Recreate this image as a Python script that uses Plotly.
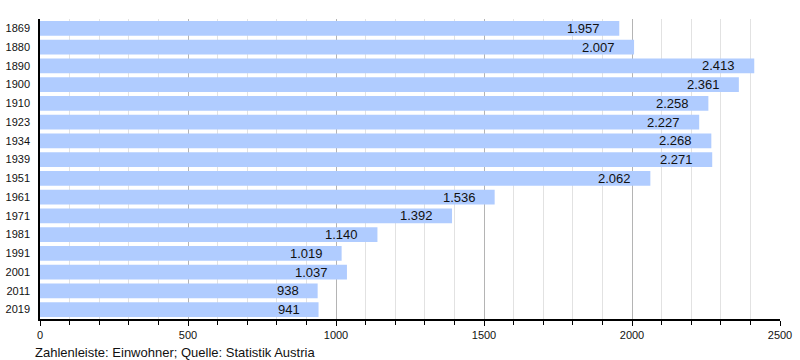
import plotly.graph_objects as go

years = ["1869", "1880", "1890", "1900", "1910", "1923", "1934", "1939",
         "1951", "1961", "1971", "1981", "1991", "2001", "2011", "2019"]
population = [1957, 2007, 2413, 2361, 2258, 2227, 2268, 2271,
              2062, 1536, 1392, 1140, 1019, 1037, 938, 941]
x_ticks = [0, 500, 1000, 1500, 2000, 2500]
caption = "Zahlenleiste: Einwohner; Quelle: Statistik Austria"


def de_fmt(v):
    return f"{v:,}".replace(",", ".")


fig = go.Figure()
fig.add_trace(go.Bar(
    y=years, x=population, orientation="h",
    marker=dict(color="#b0ccff", line=dict(width=0)),
    width=0.78, hoverinfo="x+y",
))

for i, v in enumerate(population):
    fig.add_annotation(x=v, y=i, xref="x", yref="y", text=de_fmt(v),
                       xanchor="right", xshift=-17, yshift=0, showarrow=False,
                       font=dict(family="Liberation Sans, Arial", size=13, color="#111"))

fig.add_annotation(x=0, y=0, xref="paper", yref="paper", text=caption,
                   xanchor="left", yanchor="top", xshift=-7, yshift=-24,
                   showarrow=False,
                   font=dict(family="Liberation Sans, Arial", size=13, color="#111"))

fig.update_layout(
    width=800, height=360,
    margin=dict(l=40, r=20, t=19, b=41, autoexpand=False),
    plot_bgcolor="white", paper_bgcolor="white",
    showlegend=False, bargap=0.22,
    font=dict(family="Liberation Sans, Arial", size=11, color="#111"),
)
fig.update_xaxes(
    range=[0, 2500], tickvals=x_ticks, ticktext=[str(t) for t in x_ticks],
    showgrid=True, gridcolor="#b4b4b4", gridwidth=1,
    minor=dict(dtick=100, showgrid=True, gridcolor="#e2e2e2", gridwidth=1,
               ticks="outside", ticklen=4, tickcolor="#000"),
    ticks="outside", ticklen=5, tickcolor="#000",
    showline=True, linecolor="#000", linewidth=1.5,
    zeroline=False, tickfont=dict(size=11),
)
fig.update_yaxes(
    type="category", categoryorder="array", categoryarray=years,
    range=[len(years) - 0.5, -0.5],
    showline=True, linecolor="#000", linewidth=1.5,
    showgrid=False, ticks="", ticklabelstandoff=6, tickfont=dict(size=11),
)

fig.write_html("out.html", config={"displayModeBar": False},
               post_script="document.body.style.margin='0';")
